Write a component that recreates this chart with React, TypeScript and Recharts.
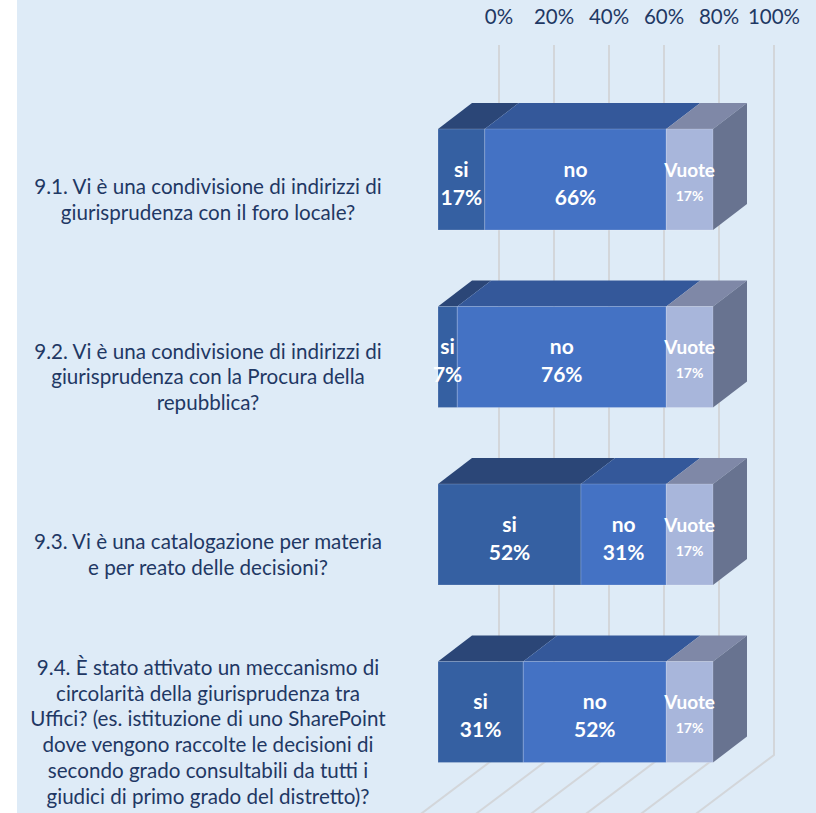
import React from "react"
import { BarChart, Bar, XAxis, YAxis, CartesianGrid, LabelList } from "recharts"

const categories = [
  "9.1. Vi è una condivisione di indirizzi di\ngiurisprudenza con il foro locale?",
  "9.2. Vi è una condivisione di indirizzi di\ngiurisprudenza con la Procura della\nrepubblica?",
  "9.3. Vi è una catalogazione per materia\ne per reato delle decisioni?",
  "9.4. È stato attivato un meccanismo di\ncircolarità della giurisprudenza tra\nUffici? (es. istituzione di uno SharePoint\ndove vengono raccolte le decisioni di\nsecondo grado consultabili da tutti i\ngiudici di primo grado del distretto)?",
]
const siValues = [17, 7, 52, 31]
const noValues = [66, 76, 31, 52]
const vuoteValues = [17, 17, 17, 17]
const xTicks = [0, 20, 40, 60, 80, 100]

const data = categories.map((label, i) => ({
  label,
  si: siValues[i],
  no: noValues[i],
  vuote: vuoteValues[i],
}))

const NAVY = "#1f3864"
const FONT = "Lato, 'Open Sans', sans-serif"
// 3D depth of the bars and of the back wall
const DX = 34
const DY = 26
const WALL_X = 61
const WALL_Y = 46
const LINE_H = 25.7

function make3D(front: string, top: string, side?: string) {
  return (props: any) => {
    const { x, y, width, height } = props
    if (width == null || height == null) return null
    return (
      <g>
        <polygon
          points={`${x},${y} ${x + DX},${y - DY} ${x + width + DX},${y - DY} ${x + width},${y}`}
          fill={top}
        />
        {side && (
          <polygon
            points={`${x + width},${y} ${x + width + DX},${y - DY} ${x + width + DX},${y + height - DY} ${x + width},${y + height}`}
            fill={side}
          />
        )}
        <rect x={x} y={y} width={width} height={height} fill={front} stroke="rgba(255,255,255,0.18)" strokeWidth={1} />
      </g>
    )
  }
}

function makeLabel(name: string, small: boolean) {
  return (props: any) => {
    const vb = props.viewBox || {}
    const x = props.x ?? vb.x
    const y = props.y ?? vb.y
    const width = props.width ?? vb.width
    const height = props.height ?? vb.height
    const cx = x + width / 2
    const cy = y + height / 2
    return (
      <g>
        <text x={cx} y={cy - 3} textAnchor="middle" fill="#fff" fontWeight={700} fontSize={small ? 19 : 21} fontFamily={FONT}>
          {name}
        </text>
        <text x={cx} y={cy + (small ? 21 : 25)} textAnchor="middle" fill="#fff" fontWeight={700} fontSize={small ? 14 : 21} fontFamily={FONT}>
          {props.value}%
        </text>
      </g>
    )
  }
}

function TopTick(props: any) {
  const { x, payload } = props
  return (
    <text x={x + WALL_X} y={24} textAnchor="middle" fill={NAVY} fontSize={20.5} fontFamily={FONT}>
      {payload.value}%
    </text>
  )
}

function CategoryTick(props: any) {
  const { y, payload } = props
  const lines = String(payload.value).split("\n")
  const first = y + 27 - ((lines.length - 1) * LINE_H) / 2
  return (
    <text textAnchor="middle" fill={NAVY} fontSize={20.6} fontFamily={FONT}>
      {lines.map((l, i) => (
        <tspan key={i} x={208} y={first + i * LINE_H}>
          {l}
        </tspan>
      ))}
    </text>
  )
}

function gridLine(p: any) {
  const { x1, y1, y2, key } = p
  return (
    <path
      key={key}
      d={`M${x1},${y1} L${x1},${y2} L${x1 - WALL_X * 1.7},${y2 + WALL_Y * 1.7}`}
      stroke="#d3d6da"
      strokeWidth={2}
      fill="none"
    />
  )
}

export default function App() {
  return (
    <div style={{ position: "absolute", left: 0, top: 0, width: 816, height: 813, background: "#fff", fontFamily: FONT, overflow: "hidden" }}>
      <div style={{ position: "absolute", left: 17, top: 0, right: 0, bottom: 0, background: "#deebf7" }} />
      <div style={{ position: "absolute", left: 0, top: 0 }}>
        <BarChart width={816} height={813} layout="vertical" data={data} margin={{ top: 0, right: 103, bottom: 12, left: 18 }}>
          <CartesianGrid
            horizontal={false}
            y={45}
            height={710}
            vertical={gridLine}
            verticalCoordinatesGenerator={(args: any) => {
              const off = args?.offset || { left: 438, width: 275 }
              return xTicks.map((t) => off.left + (t / 100) * off.width + WALL_X)
            }}
          />
          <XAxis type="number" orientation="top" domain={[0, 100]} ticks={xTicks} height={91} axisLine={false} tickLine={false} tick={<TopTick />} />
          <YAxis type="category" dataKey="label" width={420} axisLine={false} tickLine={false} tick={<CategoryTick />} />
          <Bar dataKey="si" stackId="a" barSize={101} shape={make3D("#3560a2", "#2b4677")} isAnimationActive={false}>
            <LabelList dataKey="si" content={makeLabel("si", false)} />
          </Bar>
          <Bar dataKey="no" stackId="a" barSize={101} shape={make3D("#4472c4", "#34589a")} isAnimationActive={false}>
            <LabelList dataKey="no" content={makeLabel("no", false)} />
          </Bar>
          <Bar dataKey="vuote" stackId="a" barSize={101} shape={make3D("#a8b6db", "#7f88a7", "#687390")} isAnimationActive={false}>
            <LabelList dataKey="vuote" content={makeLabel("Vuote", true)} />
          </Bar>
        </BarChart>
      </div>
    </div>
  )
}
